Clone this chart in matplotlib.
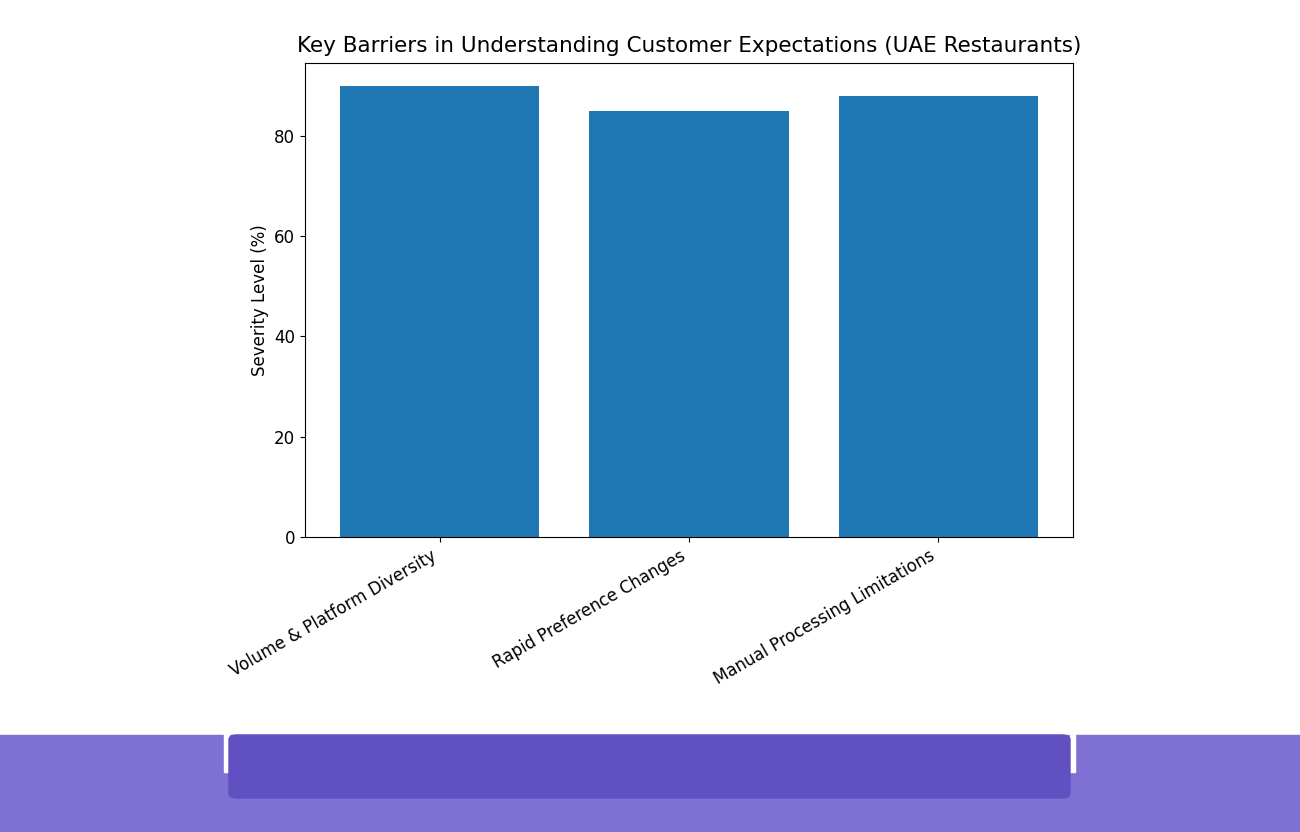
import matplotlib.pyplot as plt
from matplotlib.patches import Rectangle, FancyBboxPatch

categories = ["Volume & Platform Diversity", "Rapid Preference Changes", "Manual Processing Limitations"]
severity = [90, 85, 88]

fig = plt.figure(figsize=(13, 8.32), dpi=100)
ax = fig.add_axes([305 / 1300, 295 / 832, 768 / 1300, 474 / 832])
ax.bar(categories, severity, color="#1f77b4")
ax.set_ylabel("Severity Level (%)", fontsize=12)
ax.set_title("Key Barriers in Understanding Customer Expectations (UAE Restaurants)", fontsize=15.5, pad=8)
ax.tick_params(labelsize=12)
plt.setp(ax.get_xticklabels(), rotation=30, ha="right")

# decorative band at the bottom
fig.patches.append(Rectangle((0, 0), 1, 97 / 832, transform=fig.transFigure,
                             color="#7f70d4", zorder=0))
for x0 in (224, 1070):
    fig.patches.append(Rectangle((x0 / 1300, 60 / 832), 5 / 1300, 40 / 832,
                                 transform=fig.transFigure, color="white", zorder=1))
fig.patches.append(FancyBboxPatch((229 / 1300, 34 / 832), 841 / 1300, 63 / 832,
                                  boxstyle="round,pad=0,rounding_size=0.006",
                                  transform=fig.transFigure, color="#6050c2", zorder=2))

fig.savefig("out.png", dpi=100)
